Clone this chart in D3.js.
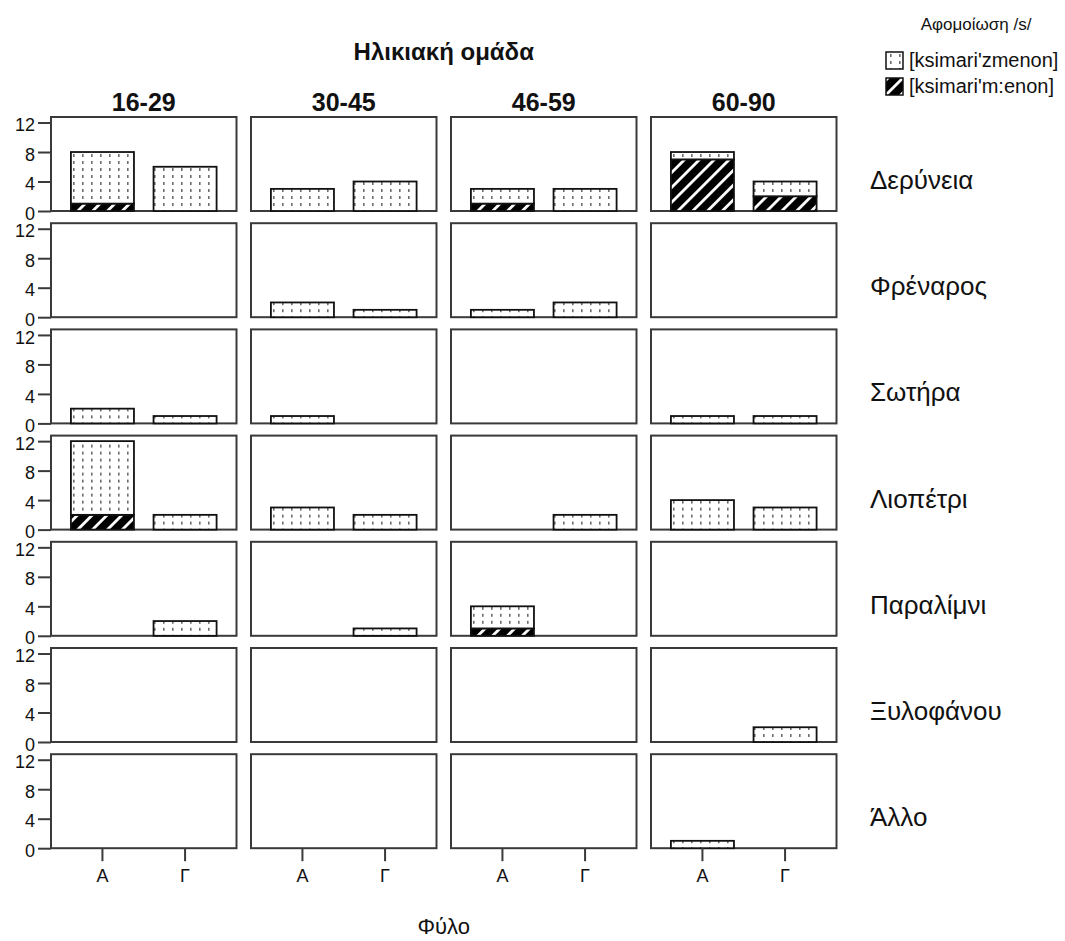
<!DOCTYPE html>
<html>
<head>
<meta charset="utf-8">
<script src="https://cdn.jsdelivr.net/npm/d3@7"></script>
<style>
  html, body { margin: 0; padding: 0; background: #fff; }
  text { font-family: "Liberation Sans", Arial, sans-serif; }
</style>
</head>
<body>
<svg id="chart" width="1065" height="941"></svg>
<script>
// ---- data ----
const ageGroups = ["16-29", "30-45", "46-59", "60-90"];
const villages = ["Δερύνεια", "Φρέναρος", "Σωτήρα", "Λιοπέτρι", "Παραλίμνι", "Ξυλοφάνου", "Άλλο"];
const genders = ["Α", "Γ"];
const seriesNames = ["[ksimari'zmenon]", "[ksimari'm:enon]"];
const yTicks = [0, 4, 8, 12];

// counts[village][ageGroup] = [Α, Γ]
const zmenonCounts = [
  [[7, 6], [3, 4], [2, 3], [1, 2]],
  [[0, 0], [2, 1], [1, 2], [0, 0]],
  [[2, 1], [1, 0], [0, 0], [1, 1]],
  [[10, 2], [3, 2], [0, 2], [4, 3]],
  [[0, 2], [0, 1], [3, 0], [0, 0]],
  [[0, 0], [0, 0], [0, 0], [0, 2]],
  [[0, 0], [0, 0], [0, 0], [1, 0]]
];
const menonCounts = [
  [[1, 0], [0, 0], [1, 0], [7, 2]],
  [[0, 0], [0, 0], [0, 0], [0, 0]],
  [[0, 0], [0, 0], [0, 0], [0, 0]],
  [[2, 0], [0, 0], [0, 0], [0, 0]],
  [[0, 0], [0, 0], [1, 0], [0, 0]],
  [[0, 0], [0, 0], [0, 0], [0, 0]],
  [[0, 0], [0, 0], [0, 0], [0, 0]]
];

// ---- build table ----
const rows = [];
villages.forEach((v, vi) => ageGroups.forEach((a, ai) => genders.forEach((g, gi) => {
  rows.push({ village: v, age: a, gender: g, menon: menonCounts[vi][ai][gi], zmenon: zmenonCounts[vi][ai][gi] });
})));
const stacked = d3.stack().keys(["menon", "zmenon"])(rows);

// ---- layout ----
const svg = d3.select("#chart");
const colScale = d3.scaleBand().domain(ageGroups).range([51, 836.5]).paddingInner(0.0725);
const rowScale = d3.scaleBand().domain(villages).range([117, 848.2]).paddingInner(0.1149);
const panelW = colScale.bandwidth();
const panelH = rowScale.bandwidth();
const x = d3.scaleBand().domain(genders).range([0, panelW]).paddingInner(0.237).paddingOuter(0.241);
const y = d3.scaleLinear().domain([0, 12.75]).range([panelH, 0]);

// patterns
const defs = svg.append("defs");
const pd = defs.append("pattern").attr("id", "dots").attr("patternUnits", "userSpaceOnUse")
  .attr("width", 9).attr("height", 7);
pd.append("rect").attr("width", 9).attr("height", 7).attr("fill", "#fff");
pd.append("rect").attr("x", 4).attr("y", 2).attr("width", 1.6).attr("height", 3).attr("fill", "#6e6e6e");
const ph = defs.append("pattern").attr("id", "hatch").attr("patternUnits", "userSpaceOnUse")
  .attr("width", 10.5).attr("height", 10.5).attr("patternTransform", "rotate(45)");
ph.append("rect").attr("width", 10.5).attr("height", 10.5).attr("fill", "#000");
ph.append("rect").attr("x", 0).attr("width", 2.8).attr("height", 10.5).attr("fill", "#fff");
const fills = { menon: "url(#hatch)", zmenon: "url(#dots)" };

// panels
villages.forEach(v => ageGroups.forEach(a => {
  const g = svg.append("g").attr("transform", `translate(${colScale(a)},${rowScale(v)})`);
  g.append("rect").attr("width", panelW).attr("height", panelH)
    .attr("fill", "#fff").attr("stroke", "#3a3a3a").attr("stroke-width", 2);
  stacked.forEach(layer => {
    g.selectAll(null).data(layer.filter(d => d.data.village === v && d.data.age === a && d[1] > d[0]))
      .join("rect")
      .attr("x", d => x(d.data.gender))
      .attr("width", x.bandwidth())
      .attr("y", d => y(d[1]))
      .attr("height", d => y(d[0]) - y(d[1]))
      .attr("fill", fills[layer.key])
      .attr("stroke", "#111").attr("stroke-width", 1.8);
  });
  // left axis for first column
  if (a === ageGroups[0]) {
    const ax = g.append("g").call(d3.axisLeft(y).tickValues(yTicks).tickSize(13).tickPadding(3));
    ax.select(".domain").remove();
    ax.selectAll(".tick line").attr("stroke", "#3a3a3a").attr("stroke-width", 2);
    ax.selectAll(".tick text").attr("font-size", 18).attr("fill", "#111").attr("dy", "0.45em")
      .style("font-family", "'Liberation Sans', Arial, sans-serif");
  }
  // bottom axis for last row
  if (v === villages[villages.length - 1]) {
    const bx = g.append("g").attr("transform", `translate(0,${panelH})`)
      .call(d3.axisBottom(x).tickSize(13).tickPadding(8));
    bx.select(".domain").remove();
    bx.selectAll(".tick line").attr("stroke", "#3a3a3a").attr("stroke-width", 2);
    bx.selectAll(".tick text").attr("font-size", 18).attr("fill", "#111")
      .style("font-family", "'Liberation Sans', Arial, sans-serif");
  }
}));

// column headers
svg.selectAll(".colhdr").data(ageGroups).join("text")
  .attr("x", d => colScale(d) + panelW / 2).attr("y", 111)
  .attr("text-anchor", "middle").attr("font-size", 25).attr("font-weight", "bold").attr("fill", "#111")
  .text(d => d);

// row labels
svg.selectAll(".rowlbl").data(villages).join("text")
  .attr("x", 870).attr("y", d => rowScale(d) + panelH - 22)
  .attr("font-size", 26).attr("fill", "#111")
  .text(d => d);

// title
svg.append("text").attr("x", (colScale.range()[0] + colScale.range()[1]) / 2).attr("y", 60)
  .attr("text-anchor", "middle").attr("font-size", 24).attr("font-weight", "bold").attr("fill", "#111")
  .text("Ηλικιακή ομάδα");

// x axis title
svg.append("text").attr("x", (colScale.range()[0] + colScale.range()[1]) / 2).attr("y", 934)
  .attr("text-anchor", "middle").attr("font-size", 22).attr("fill", "#111")
  .text("Φύλο");

// legend
svg.append("text").attr("x", 976).attr("y", 30).attr("text-anchor", "middle")
  .attr("font-size", 17).attr("fill", "#111").text("Αφομοίωση /s/");
const legendKeys = ["zmenon", "menon"];
const lg = svg.selectAll(".lg").data(legendKeys).join("g")
  .attr("transform", (d, i) => `translate(886,${52 + i * 26})`);
lg.append("rect").attr("width", 17).attr("height", 17).attr("fill", d => fills[d])
  .attr("stroke", "#111").attr("stroke-width", 1.5);
lg.append("text").attr("x", 23).attr("y", 15).attr("font-size", 20).attr("fill", "#111")
  .text((d, i) => seriesNames[i]);
</script>
</body>
</html>
